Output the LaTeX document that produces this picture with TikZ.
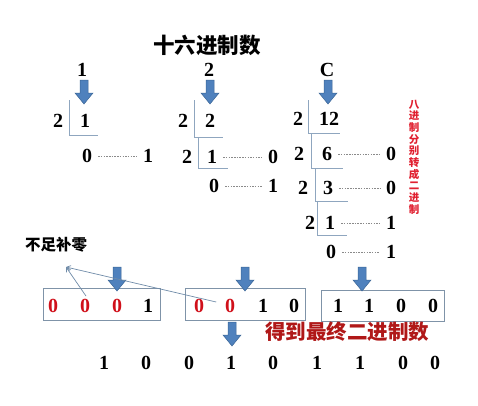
\documentclass[tikz,border=0pt]{standalone}
\usepackage{fontspec}
\setmainfont{Liberation Serif}
\newfontfamily\cjk{Noto Sans CJK SC}
\usetikzlibrary{arrows.meta}
\definecolor{arrowblue}{HTML}{4F81BD}
\definecolor{arrowedge}{HTML}{3A6596}
\definecolor{divline}{HTML}{8FA6BF}
\definecolor{dotgray}{HTML}{8A8A8A}
\definecolor{boxline}{HTML}{7F93A8}
\definecolor{digred}{HTML}{D0101A}
\definecolor{notered}{HTML}{E02030}
\definecolor{finalred}{HTML}{B01818}
\definecolor{thinblue}{HTML}{6F8BA8}
\begin{document}
\begin{tikzpicture}[x=1pt,y=-1pt,
  dg/.style={font=\bfseries\fontsize{20}{20}\selectfont, inner sep=0pt, anchor=center},
  rd/.style={dg, text=digred},
  divl/.style={draw=divline, line width=0.8pt},
  dotl/.style={draw=dotgray, line width=0.6pt, dash pattern=on 1.5pt off 1.2pt, shorten <=6pt, shorten >=6pt},
  boxn/.style={draw=boxline, line width=0.9pt, inner sep=0pt},
  thinarr/.style={draw=thinblue, line width=0.7pt, -{Straight Barb[length=4pt,width=5pt]}},
  darrow/.pic={\draw[fill=arrowblue, draw=arrowedge, line width=0.5pt, line join=miter]
     (-4,0) -- (4,0) -- (4,13) -- (9,13) -- (0,24) -- (-9,13) -- (-4,13) -- cycle;}
]
\useasboundingbox (0,0) rectangle (478,405);

% title
\node[font=\cjk\bfseries\fontsize{21.5}{22}\selectfont, inner sep=0pt] (title) at (207,45) {十六进制数};

% ---------- column 1 : 1 ----------
\node[dg] (h1) at (82,70) {1};
\pic at (84,80) {darrow};
\node[dg] (a1d) at (58,121) {2};
\node[dg] (a1n) at (85,121) {1};
\draw[divl] (69,100) -- (69,135) -- (98,135);
\node[dg] (a1q) at (87,156) {0};
\node[dg] (a1r) at (148,156) {1};
\draw[dotl] (a1q) -- (a1r);

% ---------- column 2 : 2 ----------
\node[dg] (h2) at (209,70) {2};
\pic at (210,80) {darrow};
\node[dg] (b1d) at (183,121) {2};
\node[dg] (b1n) at (210,121) {2};
\draw[divl] (194,100) -- (194,137) -- (223,137);
\node[dg] (b2d) at (187,157) {2};
\node[dg] (b2n) at (212,157) {1};
\node[dg] (b2r) at (273,157) {0};
\draw[divl] (198,137) -- (198,168) -- (228,168);
\draw[dotl] (b2n) -- (b2r);
\node[dg] (b3q) at (214,186) {0};
\node[dg] (b3r) at (273,186) {1};
\draw[dotl] (b3q) -- (b3r);

% ---------- column 3 : C ----------
\node[dg] (h3) at (327,70) {C};
\pic at (328,80) {darrow};
\node[dg] (c1d) at (298,119) {2};
\node[dg] (c1n) at (329,119) {12};
\draw[divl] (308,100) -- (308,133) -- (340,133);
\node[dg] (c2d) at (299,154) {2};
\node[dg] (c2n) at (327,154) {6};
\node[dg] (c2r) at (391,154) {0};
\draw[divl] (311,133) -- (311,168) -- (343,168);
\draw[dotl] (c2n) -- (c2r);
\node[dg] (c3d) at (303,188) {2};
\node[dg] (c3n) at (328,188) {3};
\node[dg] (c3r) at (391,188) {0};
\draw[divl] (315,168) -- (315,201) -- (348,201);
\draw[dotl] (c3n) -- (c3r);
\node[dg] (c4d) at (310,223) {2};
\node[dg] (c4n) at (330,223) {1};
\node[dg] (c4r) at (391,223) {1};
\draw[divl] (317,201) -- (317,235) -- (347,235);
\draw[dotl] (c4n) -- (c4r);
\node[dg] (c5q) at (331,252) {0};
\node[dg] (c5r) at (391,252) {1};
\draw[dotl] (c5q) -- (c5r);

% red vertical note
\node[font=\cjk\bfseries\fontsize{10.5}{11.7}\selectfont, text=notered, align=center, inner sep=0pt] (note) at (414,157)
  {八\\进\\制\\分\\别\\转\\成\\二\\进\\制};

% label
\node[font=\cjk\bfseries\fontsize{15.5}{16}\selectfont, inner sep=0pt] (pad) at (56,245) {不足补零};
\coordinate (padtip) at (66,267);

% ---------- boxes ----------
\node[boxn, minimum width=117pt, minimum height=32pt] (box1) at (101.5,304) {};
\node[boxn, minimum width=120pt, minimum height=32pt] (box2) at (245,304) {};
\node[boxn, minimum width=123pt, minimum height=31pt] (box3) at (382.5,305.5) {};

\node[rd] (p1) at (53,306) {0};
\node[rd] (p2) at (85,306) {0};
\node[rd] (p3) at (117,306) {0};
\node[dg] (p4) at (148,306) {1};
\node[rd] (q1) at (199,306) {0};
\node[rd] (q2) at (230,306) {0};
\node[dg] (q3) at (263,306) {1};
\node[dg] (q4) at (294,306) {0};
\node[dg] (r1) at (338,306) {1};
\node[dg] (r2) at (369,306) {1};
\node[dg] (r3) at (401,306) {0};
\node[dg] (r4) at (433,306) {0};

% arrows onto boxes
\pic at (117,267) {darrow};
\pic at (245,267) {darrow};
\pic at (362,267) {darrow};
\pic at (232,322) {darrow};

% thin arrows to label
\draw[thinarr] (p2.north) ++(1,-3) -- (padtip);
\draw[thinarr] (q1.east) ++(12,-4) -- (padtip);

% final text
\node[font=\cjk\bfseries\fontsize{20.5}{21}\selectfont, text=finalred, inner sep=0pt] (final) at (347,332) {得到最终二进制数};

% result digits
\node[dg] (s1) at (104,363) {1};
\node[dg] (s2) at (146,363) {0};
\node[dg] (s3) at (189,363) {0};
\node[dg] (s4) at (231,363) {1};
\node[dg] (s5) at (273,363) {0};
\node[dg] (s6) at (317,363) {1};
\node[dg] (s7) at (360,363) {1};
\node[dg] (s8) at (403,363) {0};
\node[dg] (s9) at (435,363) {0};
\end{tikzpicture}
\end{document}
